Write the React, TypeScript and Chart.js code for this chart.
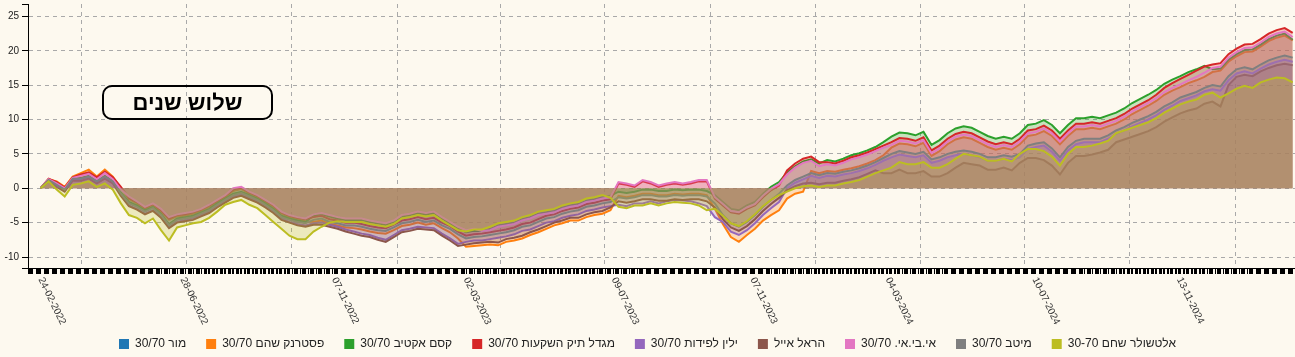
import React, { useEffect, useRef } from 'react';
import { Chart, registerables } from 'chart.js';

Chart.register(...registerables);

// ---------- data ----------
const START_DATE = '24-02-2022';
const STEP_DAYS = 7; // one sample per week, starting at START_DATE
const X_MIN_DAY = -11;
const X_MAX_DAY = 1094;
const Y_MIN = -11.6;
const Y_MAX = 26.8;
const Y_TICKS = [-10, -5, 0, 5, 10, 15, 20, 25];
const X_LABELS = ['24-02-2022', '28-06-2022', '07-11-2022', '02-03-2023', '09-07-2023', '07-11-2023', '04-03-2024', '10-07-2024', '13-11-2024'];
const QUARTER_LINES = ['01-04-2022', '01-07-2022', '01-10-2022', '01-01-2023', '01-04-2023', '01-07-2023', '01-10-2023', '01-01-2024', '01-04-2024', '01-07-2024', '01-10-2024', '01-01-2025'];
const TITLE_TEXT = 'שלוש שנים';

const SERIES_NAMES = ['מור 30/70', 'פסטרנק שהם 30/70', 'קסם אקטיב 30/70', 'מגדל תיק השקעות 30/70', 'ילין לפידות 30/70', 'הראל אייל', 'אי.בי.אי. 30/70', 'מיטב 30/70', 'אלטשולר שחם 30-70'];
const SERIES_COLORS = ['#1f77b4', '#ff7f0e', '#2ca02c', '#d62728', '#9467bd', '#8c564b', '#e377c2', '#7f7f7f', '#bcbd22'];

const mor: number[] = [];

const pasternak = [
  0, 1.3, 1.0, 0.2, 1.7, 2.2, 2.7, 1.7, 2.7, 1.7, 0.0,
  -1.6, -2.2, -3.0, -2.5, -3.4, -4.6, -4.1, -4.0, -3.7, -3.3, -2.7, -2.0, -1.3, -0.4, -0.1, -0.8, -1.3, -2.0, -2.7, -3.7, -4.2, -4.5, -4.8,
  -4.9, -4.7, -5.2, -5.4, -5.7, -5.8, -6.0, -6.3, -6.5, -6.6, -6.1, -5.5, -5.3, -5.0, -5.3, -5.1, -5.8, -6.4, -7.3,
  -8.5, -8.4, -8.3, -8.2, -8.3, -7.8, -7.6, -7.3, -6.8, -6.4, -5.9, -5.4, -5.1, -4.7, -4.7, -4.2, -3.9, -3.7, -3.2,
  -1.1, -1.3, -1.1, -0.8, -0.8, -1.0, -1.0, -0.8, -0.9, -0.8, -0.8, -1.0,
  -3.0, -5.2, -7.1, -7.8, -6.8, -5.9, -4.7, -3.9, -3.2,
  -1.5, -0.8, -0.5, 2.5, 2.2, 2.5, 2.4, 2.7, 2.9, 3.2, 3.6, 4.1, 4.8,
  5.9, 6.5, 6.4, 6.1, 6.6, 4.7, 5.4, 6.4, 7.1, 7.4, 7.2, 6.6, 6.0, 5.6, 5.9, 5.6, 6.4, 7.6, 7.8, 8.3,
  7.6, 6.4, 7.6, 8.6, 8.6, 8.8, 8.6, 9.0, 9.4, 10.0, 10.8, 11.4, 12.0, 12.7, 13.6, 14.2, 14.7, 15.3, 15.7, 16.2,
  16.9, 17.1, 18.4, 19.2, 19.8, 19.9, 20.6, 21.4, 21.9, 22.2, 21.5,
];

const kesem = [
  0, 1.3, 0.6, -0.1, 1.5, 1.5, 1.8, 1.1, 1.8, 1.1, -0.6,
  -2.0, -2.5, -3.2, -2.7, -3.7, -5.2, -4.4, -4.2, -4.0, -3.5, -3.0, -2.2, -1.5, -0.8, -0.5, -1.0, -1.5, -2.2, -3.0, -4.0, -4.4, -4.7, -4.9,
  -4.0, -3.8, -4.1, -4.4, -4.6, -4.6, -4.6, -4.9, -5.1, -5.3, -4.9, -4.1, -3.9, -3.6, -3.8, -3.6, -4.4, -5.1, -5.8,
  -6.4, -6.2, -6.2, -5.9, -5.4, -5.2, -5.0, -4.5, -4.2, -3.7, -3.5, -3.3, -2.8, -2.5, -2.3, -1.8, -1.6, -1.3, -1.1,
  -0.5, -0.7, -0.5, -0.2, -0.2, -0.4, -0.4, -0.2, -0.3, -0.2, -0.2, -0.4,
  -1.0, -2.0, -3.0, -3.2, -2.5, -2.0, -0.8, 0.2, 0.9,
  2.3, 3.2, 3.9, 4.2, 3.6, 4.1, 3.9, 4.3, 4.8, 5.1, 5.5, 6.0, 6.7,
  7.5, 8.1, 8.0, 7.7, 8.2, 6.3, 7.0, 8.0, 8.7, 9.0, 8.8, 8.2, 7.6, 7.2, 7.5, 7.2, 8.0, 9.2, 9.4, 9.9,
  9.2, 8.0, 9.2, 10.2, 10.2, 10.4, 10.2, 10.6, 11.0, 11.6, 12.4, 13.0, 13.6, 14.3, 15.2, 15.8, 16.3, 16.9, 17.3, 17.8,
  17.3, 17.4, 18.7, 19.5, 20.1, 20.2, 20.9, 21.7, 22.2, 22.5, 21.6,
];

const migdal = [
  0, 1.4, 0.9, 0.1, 1.6, 2.0, 2.3, 1.6, 2.4, 1.6, 0.2,
  -1.4, -2.0, -2.8, -2.3, -3.2, -4.4, -3.9, -3.8, -3.5, -3.1, -2.5, -1.8, -1.1, -0.2, 0.1, -0.6, -1.1, -1.8, -2.5, -3.5, -4.0, -4.3, -4.5,
  -4.2, -4.0, -4.5, -4.7, -5.0, -5.0, -5.2, -5.5, -5.7, -5.8, -5.3, -4.7, -4.5, -4.2, -4.5, -4.3, -5.0, -5.5, -6.3,
  -6.9, -6.7, -6.6, -6.4, -6.2, -6.0, -5.7, -5.2, -5.0, -4.5, -4.0, -3.8, -3.3, -3.0, -2.8, -2.3, -2.1, -1.8, -1.6,
  0.7, 0.5, 0.2, 1.0, 0.7, 0.2, 0.5, 0.7, 0.5, 0.7, 1.0, 1.0,
  -1.5, -2.5, -3.5, -3.7, -3.0, -2.5, -1.3, -0.3, 0.4,
  2.6, 3.6, 4.3, 4.6, 3.8, 3.8, 3.6, 4.0, 4.5, 4.8, 5.2, 5.7, 6.2,
  6.7, 7.3, 7.2, 6.9, 7.4, 5.5, 6.2, 7.2, 7.9, 8.2, 8.0, 7.4, 6.8, 6.4, 6.7, 6.4, 7.2, 8.4, 8.6, 9.1,
  8.4, 7.2, 8.4, 9.4, 9.4, 9.6, 9.4, 9.8, 10.2, 10.8, 11.6, 12.2, 12.8, 13.6, 14.6, 15.3, 15.9, 16.5, 17.1, 17.7,
  18.0, 18.2, 19.5, 20.3, 20.9, 21.0, 21.7, 22.5, 23.0, 23.3, 22.6,
];

const yelin = [
  0, 1.1, 0.4, -0.3, 1.3, 1.3, 1.6, 0.9, 1.5, 0.8, -1.0,
  -2.5, -3.0, -3.7, -3.2, -4.2, -5.7, -4.9, -4.6, -4.4, -3.9, -3.4, -2.6, -1.9, -1.2, -0.9, -1.4, -1.9, -2.6, -3.4, -4.4, -4.9, -5.2, -5.4,
  -5.1, -5.0, -5.3, -5.6, -6.0, -6.3, -6.6, -6.8, -7.2, -7.5, -6.8, -6.1, -5.9, -5.6, -5.7, -5.8, -6.6, -7.3, -8.1,
  -7.8, -7.6, -7.6, -7.4, -7.2, -7.0, -6.7, -6.2, -6.0, -5.5, -5.0, -4.8, -4.3, -4.0, -3.8, -3.3, -3.1, -2.8, -2.6,
  -2.4, -2.6, -2.2, -2.2, -1.9, -2.2, -1.9, -1.7, -1.8, -1.9, -2.2, -2.6,
  -4.2, -4.9, -6.3, -6.8, -6.1, -5.1, -3.9, -2.9, -2.0,
  0.0, 0.8, 1.3, 1.8, 1.5, 1.8, 1.7, 2.0, 2.2, 2.5, 2.9, 3.4, 4.0,
  4.5, 4.9, 4.7, 4.5, 4.8, 3.7, 4.0, 4.5, 4.8, 5.0, 4.8, 4.5, 4.0, 4.0, 4.3, 4.1, 4.5, 5.7, 6.0, 6.2,
  5.3, 4.0, 5.5, 6.4, 6.7, 6.7, 6.7, 7.2, 7.9, 8.4, 9.0, 9.5, 10.0, 10.6, 11.4, 12.0, 12.7, 13.1, 13.5, 14.1,
  14.4, 14.2, 15.7, 16.7, 17.0, 16.7, 17.4, 18.0, 18.4, 18.7, 18.4,
];

const harel = [
  0, 1.0, 0.2, -0.5, 1.1, 1.1, 1.4, 0.7, 1.4, 0.7, -1.1,
  -2.6, -3.1, -3.8, -3.3, -4.3, -5.8, -5.0, -4.8, -4.6, -4.1, -3.6, -2.8, -2.1, -1.4, -1.1, -1.6, -2.1, -2.8, -3.6, -4.6, -5.0, -5.4, -5.6,
  -5.3, -5.3, -5.6, -5.9, -6.3, -6.6, -6.9, -7.1, -7.5, -7.8, -7.1, -6.4, -6.2, -5.9, -6.0, -6.1, -6.9, -7.6, -8.4,
  -8.2, -8.0, -7.9, -7.8, -7.9, -7.4, -7.2, -6.9, -6.4, -6.0, -5.5, -5.0, -4.7, -4.3, -4.3, -3.8, -3.5, -3.3, -2.8,
  -1.9, -2.1, -1.9, -1.6, -1.6, -1.8, -1.8, -1.6, -1.7, -1.6, -1.6, -1.9,
  -2.8, -4.5, -5.7, -6.2, -5.5, -4.5, -3.3, -2.3, -1.4,
  -0.3, 0.3, 0.7, 0.8, 0.6, 0.8, 0.8, 1.1, 1.3, 1.6, 2.1, 2.6, 2.2,
  2.2, 2.7, 2.2, 2.2, 2.5, 1.7, 1.7, 2.2, 3.0, 3.7, 3.5, 3.3, 2.7, 2.7, 3.0, 2.6, 3.7, 4.4, 4.4, 4.1,
  3.3, 2.0, 3.7, 4.7, 4.7, 4.9, 5.2, 5.6, 6.7, 7.1, 7.5, 7.9, 8.3, 8.9, 9.7, 10.3, 10.9, 11.3, 11.6, 12.3,
  12.6, 11.9, 15.0, 16.2, 16.5, 16.3, 17.0, 17.5, 17.9, 18.1, 17.9,
];

const ibi = [
  0, 1.3, 0.7, 0.0, 1.5, 1.8, 2.1, 1.3, 2.2, 1.3, -0.2,
  -1.2, -1.9, -2.7, -2.2, -3.0, -4.2, -3.8, -3.6, -3.4, -3.0, -2.4, -1.7, -1.0, 0.0, 0.2, -0.5, -1.0, -1.7, -2.4, -3.4, -3.9, -4.2, -4.4,
  -3.8, -3.6, -3.9, -4.2, -4.4, -4.4, -4.4, -4.7, -4.9, -5.1, -4.7, -3.9, -3.7, -3.4, -3.6, -3.4, -4.2, -4.9, -5.6,
  -6.1, -5.9, -6.2, -6.1, -5.6, -5.4, -5.2, -4.7, -4.4, -3.9, -3.7, -3.5, -3.0, -2.7, -2.5, -2.0, -1.8, -1.5, -1.3,
  0.9, 0.7, 0.4, 1.2, 0.9, 0.4, 0.7, 0.9, 0.7, 0.9, 1.2, 1.2,
  -1.3, -2.3, -3.3, -3.5, -2.8, -2.3, -1.1, -0.1, 0.6,
  2.0, 3.0, 3.7, 4.0, 3.2, 3.5, 3.3, 3.7, 4.2, 4.5, 4.9, 5.4, 5.9,
  6.3, 6.9, 6.8, 6.5, 7.0, 5.1, 5.8, 6.8, 7.5, 7.8, 7.6, 7.0, 6.4, 6.0, 6.3, 6.0, 6.8, 8.0, 8.2, 8.7,
  8.0, 6.8, 8.0, 9.0, 9.0, 9.2, 9.0, 9.4, 9.8, 10.4, 11.2, 11.8, 12.4, 13.1, 14.0, 14.6, 15.1, 15.7, 16.2, 16.8,
  17.5, 17.7, 19.0, 19.8, 20.4, 20.5, 21.2, 22.0, 22.5, 22.8, 22.0,
];

const meitav = [
  0, 1.2, 0.5, -0.2, 1.4, 1.4, 1.7, 1.0, 1.7, 1.0, -0.8,
  -2.2, -2.7, -3.4, -2.9, -3.9, -5.4, -4.6, -4.4, -4.2, -3.7, -3.2, -2.4, -1.7, -1.0, -0.7, -1.2, -1.7, -2.4, -3.2, -4.2, -4.6, -4.9, -5.1,
  -4.6, -4.4, -4.9, -5.1, -5.4, -5.4, -5.6, -5.9, -6.1, -6.2, -5.7, -5.1, -4.9, -4.6, -4.9, -4.7, -5.4, -5.9, -6.7,
  -7.3, -7.1, -7.0, -6.8, -6.6, -6.4, -6.1, -5.6, -5.4, -4.9, -4.4, -4.2, -3.7, -3.4, -3.2, -2.7, -2.5, -2.2, -2.0,
  -1.3, -1.5, -1.3, -1.0, -1.0, -1.2, -1.2, -1.0, -1.1, -1.0, -1.0, -1.2,
  -2.2, -3.9, -5.1, -5.6, -4.9, -3.9, -2.7, -1.7, -0.8,
  0.4, 1.2, 1.7, 2.2, 1.9, 2.2, 2.1, 2.4, 2.6, 2.9, 3.3, 3.8, 4.4,
  5.0, 5.4, 5.2, 5.0, 5.3, 4.2, 4.5, 5.0, 5.3, 5.5, 5.3, 5.0, 4.5, 4.5, 4.8, 4.6, 5.0, 6.2, 6.5, 6.7,
  5.8, 4.5, 6.0, 6.9, 7.2, 7.2, 7.2, 7.7, 8.4, 8.9, 9.5, 10.0, 10.5, 11.1, 11.9, 12.5, 13.2, 13.6, 14.0, 14.6,
  15.0, 14.8, 16.3, 17.3, 17.6, 17.3, 18.0, 18.6, 19.0, 19.3, 19.0,
];

const altshuler = [
  0, 1.0, -0.2, -1.2, 0.5, 0.7, 1.0, 0.2, 0.7, -0.2, -2.2,
  -3.9, -4.3, -5.1, -4.4, -6.1, -7.6, -5.7, -5.4, -5.1, -4.9, -4.3, -3.4, -2.4, -2.0, -1.7, -2.4, -2.9, -3.9, -4.9, -5.9, -6.9, -7.4, -7.4,
  -6.3, -5.6, -5.0, -4.8, -4.9, -4.9, -4.9, -5.2, -5.4, -5.6, -5.2, -4.4, -4.2, -3.9, -4.1, -3.9, -4.7, -5.4, -6.1,
  -6.3, -6.0, -6.0, -5.6, -5.1, -4.9, -4.7, -4.2, -3.9, -3.4, -3.2, -3.0, -2.5, -2.2, -2.0, -1.5, -1.3, -1.0, -1.4,
  -2.7, -2.9, -2.5, -2.5, -2.2, -2.5, -2.2, -2.0, -2.1, -2.2, -2.5, -3.2,
  -3.0, -4.0, -5.1, -5.5, -4.8, -3.8, -2.6, -1.7, -1.0,
  -0.5, 0.0, 0.3, 0.4, 0.2, 0.4, 0.4, 0.7, 0.9, 1.2, 1.7, 2.2, 2.6,
  3.0, 3.8, 3.5, 3.5, 3.8, 3.0, 3.0, 3.5, 4.3, 5.0, 4.8, 4.6, 4.0, 4.0, 4.3, 3.9, 5.0, 5.7, 5.7, 5.4,
  4.6, 3.3, 5.0, 6.0, 6.0, 6.2, 6.5, 6.9, 8.0, 8.4, 8.8, 9.2, 9.6, 10.2, 11.0, 11.6, 12.2, 12.6, 12.9, 13.6,
  13.9, 13.2, 13.8, 14.5, 14.9, 14.6, 15.4, 15.8, 16.1, 16.0, 15.4,
];

const SERIES_VALUES = [mor, pasternak, kesem, migdal, yelin, harel, ibi, meitav, altshuler];

// ---------- styling ----------
const BG = '#fdf9ef';
const GRID = '#a9a9a9';
const FONT = '"Liberation Sans", Arial, sans-serif';
const FILL_ALPHA = 0.25;
const LEGEND_PAD = 20;
const CANVAS_W = 1295;
const CANVAS_H = 360;
const X_AXIS_H = 50;

function dayOf(s: string): number {
  const [d, m, y] = s.split('-').map(Number);
  const [d0, m0, y0] = START_DATE.split('-').map(Number);
  return Math.round((Date.UTC(y, m - 1, d) - Date.UTC(y0, m0 - 1, d0)) / 86400000);
}

function hexA(hex: string, a: number): string {
  const n = parseInt(hex.slice(1), 16);
  return `rgba(${(n >> 16) & 255},${(n >> 8) & 255},${n & 255},${a})`;
}

// trading-day tick marks (Sun-Thu), plus the outer tick at the axis start
function tradingDayTicks(): { value: number }[] {
  const [d0, m0, y0] = START_DATE.split('-').map(Number);
  const base = Date.UTC(y0, m0 - 1, d0);
  const out: { value: number }[] = [{ value: X_MIN_DAY }];
  for (let d = X_MIN_DAY + 1; d <= X_MAX_DAY; d++) {
    const dow = new Date(base + d * 86400000).getUTCDay();
    if (dow !== 5 && dow !== 6) out.push({ value: d });
  }
  return out;
}

const dateLabelPlugin = {
  id: 'dateLabels',
  afterDraw(chart: any) {
    const { ctx, chartArea } = chart;
    const xs = chart.scales.x;
    ctx.save();
    ctx.font = `10px ${FONT}`;
    ctx.fillStyle = '#333';
    ctx.textAlign = 'left';
    ctx.textBaseline = 'middle';
    X_LABELS.forEach((lbl) => {
      const px = xs.getPixelForValue(dayOf(lbl));
      ctx.save();
      ctx.translate(px, chartArea.bottom + 10);
      ctx.rotate((64 * Math.PI) / 180);
      ctx.fillText(lbl, 0, 0);
      ctx.restore();
    });
    ctx.restore();
  },
};

export default function App() {
  const ref = useRef<HTMLCanvasElement>(null);

  useEffect(() => {
    const canvas = ref.current;
    if (!canvas) return;
    const datasets = SERIES_NAMES.map((name, idx) => ({
      label: name,
      data: SERIES_VALUES[idx].map((v, i) => ({ x: i * STEP_DAYS, y: v })),
      borderColor: SERIES_COLORS[idx],
      backgroundColor: hexA(SERIES_COLORS[idx], FILL_ALPHA),
      borderWidth: 2,
      pointRadius: 0,
      tension: 0,
      fill: 'origin',
      order: -idx,
    }));

    const chart = new Chart(canvas, {
      type: 'line',
      data: { datasets } as any,
      options: {
        animation: false,
        responsive: false,
        maintainAspectRatio: false,
        events: [],
        layout: { padding: { top: 4, left: 0, right: 0, bottom: 0 } },
        plugins: {
          tooltip: { enabled: false },
          legend: {
            position: 'bottom',
            labels: {
              boxWidth: 10,
              boxHeight: 10,
              padding: LEGEND_PAD,
              color: '#222',
              font: { size: 12, family: FONT },
              sort: (a: any, b: any) => a.datasetIndex - b.datasetIndex,
              generateLabels: (ch: any) => {
                const items = (Chart.defaults.plugins.legend.labels as any).generateLabels(ch);
                return items.map((it: any) => ({
                  ...it,
                  fillStyle: SERIES_COLORS[it.datasetIndex],
                  strokeStyle: SERIES_COLORS[it.datasetIndex],
                  lineWidth: 0,
                }));
              },
            },
          },
        },
        scales: {
          x: {
            type: 'linear',
            position: 'bottom',
            min: X_MIN_DAY,
            max: X_MAX_DAY,
            afterBuildTicks: (s: any) => {
              s.ticks = tradingDayTicks();
            },
            afterFit: (s: any) => {
              s.height = X_AXIS_H;
              s.paddingLeft = 0;
              s.paddingRight = 0;
            },
            ticks: { display: false },
            grid: { drawOnChartArea: false, drawTicks: true, tickLength: 6, tickColor: '#000', tickWidth: 1 },
            border: { color: '#000', width: 1 },
          },
          xq: {
            type: 'linear',
            position: 'top',
            min: X_MIN_DAY,
            max: X_MAX_DAY,
            afterBuildTicks: (s: any) => {
              s.ticks = QUARTER_LINES.map((q) => ({ value: dayOf(q) }));
            },
            afterFit: (s: any) => {
              s.height = 0;
              s.paddingLeft = 0;
              s.paddingRight = 0;
            },
            ticks: { display: false },
            grid: { drawOnChartArea: true, drawTicks: false, color: GRID, lineWidth: 1 },
            border: { display: false, dash: [4, 4] },
          },
          y: {
            type: 'linear',
            min: Y_MIN,
            max: Y_MAX,
            afterBuildTicks: (s: any) => {
              s.ticks = [Y_MIN, ...Y_TICKS, Y_MAX].map((v) => ({ value: v }));
            },
            afterFit: (s: any) => {
              s.width = 28;
              s.paddingTop = 0;
              s.paddingBottom = 0;
            },
            ticks: {
              autoSkip: false,
              padding: 3,
              color: '#222',
              font: { size: 10, family: FONT },
              callback: (v: any) => (Y_TICKS.includes(v) ? String(v) : ''),
            },
            grid: {
              color: (c: any) => (c.tick && Y_TICKS.includes(c.tick.value) ? GRID : 'rgba(0,0,0,0)'),
              tickColor: '#000',
              tickLength: 6,
              lineWidth: 1,
            },
            border: { color: '#000', width: 1, dash: [4, 4] },
          },
        },
      } as any,
      plugins: [dateLabelPlugin],
    });
    return () => chart.destroy();
  }, []);

  return (
    <div style={{ position: 'fixed', left: 0, top: 0, width: 1295, height: 357, overflow: 'hidden', background: BG }}>
      <canvas ref={ref} width={CANVAS_W} height={CANVAS_H} style={{ display: 'block', width: CANVAS_W, height: CANVAS_H }} />
      <div
        style={{
          position: 'absolute',
          left: 102,
          top: 85,
          width: 171,
          height: 35,
          boxSizing: 'border-box',
          border: '2px solid #000',
          borderRadius: 10,
          display: 'flex',
          alignItems: 'center',
          justifyContent: 'center',
          font: `bold 22px ${FONT}`,
          color: '#000',
          direction: 'rtl',
        }}
      >
        {TITLE_TEXT}
      </div>
    </div>
  );
}
